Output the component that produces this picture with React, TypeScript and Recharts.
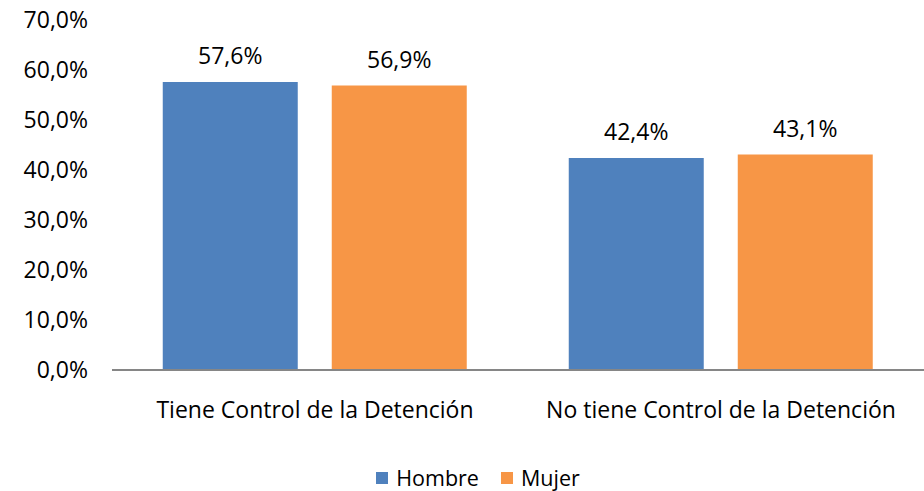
import { BarChart, Bar, XAxis, YAxis, Legend, LabelList } from 'recharts'

const categories = ['Tiene Control de la Detención', 'No tiene Control de la Detención']
const hombre = [57.6, 42.4]
const mujer = [56.9, 43.1]
const yTicks = [0, 10, 20, 30, 40, 50, 60, 70]

const data = categories.map((name, i) => ({ name, Hombre: hombre[i], Mujer: mujer[i] }))

const FONT = '"Open Sans", sans-serif'
const SIZE = 23
const fmt = (v: number) => v.toFixed(1).replace('.', ',') + '%'

const renderLegend = (props: any) => {
  const { payload } = props
  return (
    <div style={{ display: 'flex', justifyContent: 'center', gap: 22, paddingTop: 11, paddingLeft: 32, fontFamily: FONT, fontSize: 21.5, lineHeight: '31px', color: '#000' }}>
      {payload.map((p: any) => (
        <span key={p.value} style={{ display: 'flex', alignItems: 'center' }}>
          <span style={{ width: 12, height: 12, background: p.color, display: 'inline-block', marginRight: 8 }} />
          {p.value}
        </span>
      ))}
    </div>
  )
}

export default function App() {
  return (
    <div style={{ position: 'absolute', left: 0, top: 0, background: '#fff' }}>
      <BarChart
        width={924}
        height={491}
        data={data}
        margin={{ top: 20, right: 0, bottom: 0, left: 0 }}
        barCategoryGap="12.5%"
        barGap={34}
      >
        <XAxis
          dataKey="name"
          height={81}
          axisLine={{ stroke: '#868686', strokeWidth: 2 }}
          tickLine={false}
          tickSize={0}
          tickMargin={32}
          tick={{ fill: '#000', fontSize: SIZE, fontFamily: FONT }}
        />
        <YAxis
          width={112}
          domain={[0, 70]}
          ticks={yTicks}
          axisLine={false}
          tickLine={false}
          tickSize={0}
          tickMargin={24}
          tickFormatter={fmt}
          tick={{ fill: '#000', fontSize: SIZE, fontFamily: FONT }}
        />
        <Legend verticalAlign="bottom" height={40} content={renderLegend} />
        <Bar dataKey="Hombre" fill="#4F81BD" isAnimationActive={false}>
          <LabelList dataKey="Hombre" position="top" offset={18} formatter={(v: any) => fmt(Number(v))} style={{ fill: '#000', fontSize: SIZE, fontFamily: FONT }} />
        </Bar>
        <Bar dataKey="Mujer" fill="#F79646" isAnimationActive={false}>
          <LabelList dataKey="Mujer" position="top" offset={18} formatter={(v: any) => fmt(Number(v))} style={{ fill: '#000', fontSize: SIZE, fontFamily: FONT }} />
        </Bar>
      </BarChart>
    </div>
  )
}
